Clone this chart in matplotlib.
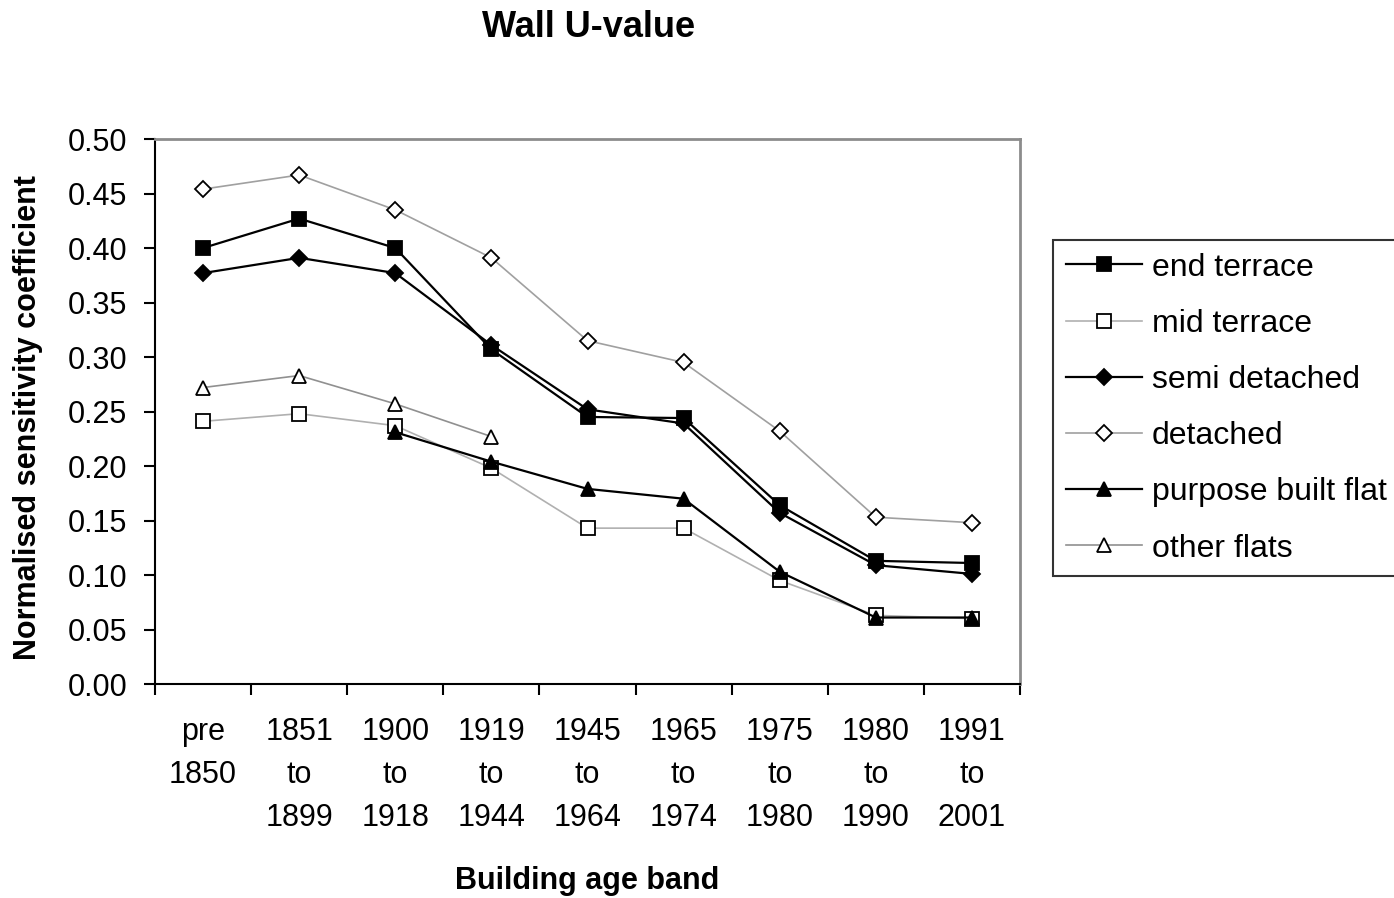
import numpy as np
import matplotlib
matplotlib.use('Agg')
import matplotlib.pyplot as plt

plt.rcParams['font.family'] = ['Liberation Sans', 'DejaVu Sans']

# age bands
bands = ['pre\n1850', '1851\nto\n1899', '1900\nto\n1918', '1919\nto\n1944',
         '1945\nto\n1964', '1965\nto\n1974', '1975\nto\n1980', '1980\nto\n1990',
         '1991\nto\n2001']

end_terrace = [0.400, 0.427, 0.400, 0.307, 0.245, 0.244, 0.164, 0.113, 0.111]
mid_terrace = [0.241, 0.248, 0.237, 0.198, 0.143, 0.143, 0.095, 0.063, 0.060]
semi_detached = [0.377, 0.391, 0.377, 0.311, 0.252, 0.239, 0.157, 0.109, 0.101]
detached = [0.454, 0.467, 0.435, 0.391, 0.315, 0.295, 0.232, 0.153, 0.148]
purpose_built_flat = [np.nan, np.nan, 0.231, 0.204, 0.179, 0.170, 0.103, 0.061, 0.061]
other_flats = [0.272, 0.283, 0.257, 0.227, np.nan, np.nan, np.nan, np.nan, np.nan]

series = [
    ('end terrace', end_terrace, 's', 'black', 'black', 1.6),
    ('mid terrace', mid_terrace, 's', '#b0b0b0', 'white', 1.2),
    ('semi detached', semi_detached, 'D', 'black', 'black', 1.6),
    ('detached', detached, 'D', '#a0a0a0', 'white', 1.2),
    ('purpose built flat', purpose_built_flat, '^', 'black', 'black', 1.6),
    ('other flats', other_flats, '^', '#909090', 'white', 1.2),
]

fig = plt.figure(figsize=(13.94, 8.98), dpi=100)
ax = fig.add_axes([0.1112, 0.2383, 0.6205, 0.6069])

x = np.arange(len(bands))
for name, vals, mk, col, face, lw in series:
    ms = 8.5 if mk == 'D' else 10.5
    ax.plot(x, vals, color=col, lw=lw, marker=mk, markersize=ms,
            markerfacecolor=face, markeredgecolor='black', markeredgewidth=1.3,
            label=name)

ax.set_xlim(-0.5, len(bands) - 0.5)
ax.set_ylim(0, 0.5)
ax.set_yticks(np.arange(0, 0.501, 0.05))
ax.set_yticklabels(['%.2f' % v for v in np.arange(0, 0.501, 0.05)], fontsize=22)

ax.set_xticks(np.arange(-0.5, len(bands), 1))
ax.set_xticklabels([])
ax.set_xticks(x, minor=True)
ax.set_xticklabels(bands, minor=True, fontsize=22, linespacing=1.55)
ax.tick_params(axis='x', which='major', direction='out', length=8, width=1.5)
ax.tick_params(axis='x', which='minor', length=0, pad=24)
ax.tick_params(axis='y', direction='out', length=8, width=1.5, pad=12)

for s in ['top', 'right']:
    ax.spines[s].set_color('#8c8c8c')
    ax.spines[s].set_linewidth(2)
for s in ['left', 'bottom']:
    ax.spines[s].set_color('black')
    ax.spines[s].set_linewidth(1.5)

fig.text(0.422, 0.969, 'Wall U-value', ha='center', va='center',
         fontsize=26, fontweight='bold')
fig.text(0.421, 0.019, 'Building age band', ha='center', va='center',
         fontsize=22, fontweight='bold')
fig.text(0.02, 0.535, 'Normalised sensitivity coefficient', ha='center',
         va='center', rotation=90, fontsize=22, fontweight='bold')

leg = fig.legend(loc='upper left', bbox_to_anchor=(0.7554, 0.733), fontsize=23,
                 frameon=True, fancybox=False, edgecolor='black',
                 handlelength=2.4, handletextpad=0.3, labelspacing=0.82,
                 borderpad=0.4, borderaxespad=0)
leg.get_frame().set_linewidth(1.5)

fig.savefig('out.png', dpi=100)
